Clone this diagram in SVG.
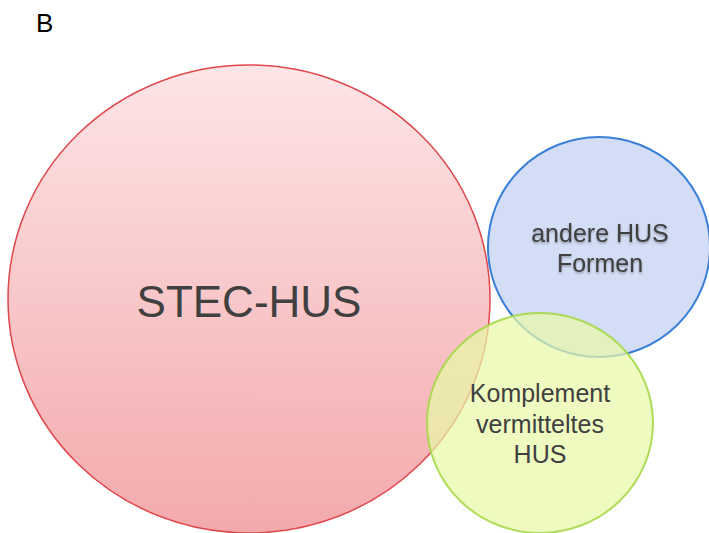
<svg xmlns="http://www.w3.org/2000/svg" width="709" height="533" viewBox="0 0 709 533">
<defs>
<linearGradient id="gRed" x1="0" y1="0" x2="0" y2="1">
<stop offset="0" stop-color="#fde2e3"/>
<stop offset="1" stop-color="#f2a0a3"/>
</linearGradient>
<filter id="sh" x="-10%" y="-10%" width="120%" height="140%">
<feDropShadow dx="0" dy="1.5" stdDeviation="1.2" flood-color="#000" flood-opacity="0.35"/>
</filter>
</defs>
<style>
.lbl{font-family:"Liberation Sans",Arial,sans-serif;fill:#404040;text-anchor:middle}
</style>
<rect width="709" height="533" fill="#ffffff"/>
<text x="36" y="32" style="font-family:'Liberation Sans',Arial,sans-serif;font-size:26px;fill:#000">B</text>
<g id="stec">
<ellipse cx="249" cy="299" rx="241" ry="234" fill="url(#gRed)" fill-opacity="0.9" stroke="#e0474c" stroke-width="1.5"/>
<text class="lbl" x="249" y="317" style="font-size:44px">STEC-HUS</text>
</g>
<g id="andere">
<ellipse cx="599" cy="247" rx="111" ry="110" fill="#d3ddf5" stroke="#3a7fd8" stroke-width="2"/>
<text class="lbl" x="600" y="242" style="font-size:25px" filter="url(#sh)">andere HUS</text>
<text class="lbl" x="600" y="272" style="font-size:25px" filter="url(#sh)">Formen</text>
</g>
<g id="komplement">
<ellipse cx="540" cy="423" rx="113" ry="110" fill="#e8f8a8" fill-opacity="0.72" stroke="#a6d84a" stroke-width="2" stroke-opacity="0.9"/>
<text class="lbl" x="540" y="402" style="font-size:25px">Komplement</text>
<text class="lbl" x="540" y="433" style="font-size:25px">vermitteltes</text>
<text class="lbl" x="540" y="463" style="font-size:25px">HUS</text>
</g>
<g id="connectors"></g>
</svg>
